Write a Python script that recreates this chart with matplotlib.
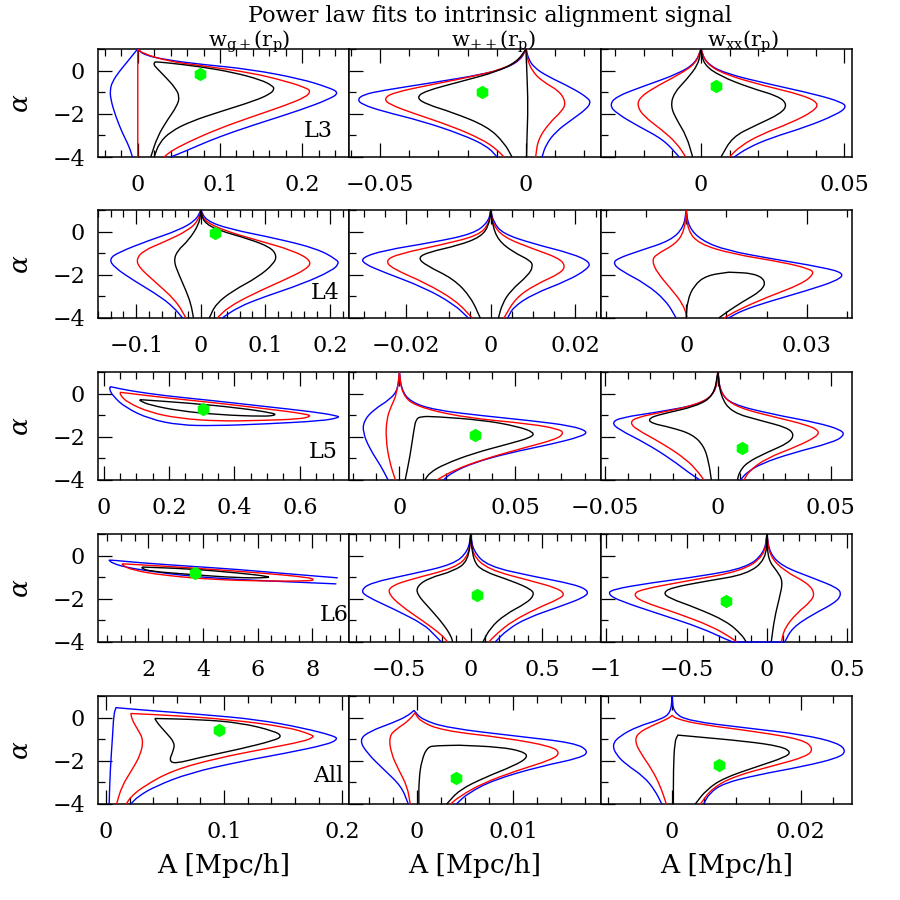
import matplotlib
matplotlib.use('Agg')
from matplotlib import pyplot as plt
from matplotlib.ticker import MultipleLocator, FuncFormatter
from matplotlib.path import Path
from matplotlib.patches import PathPatch

plt.rcParams['font.family'] = 'DejaVu Serif'
plt.rcParams['mathtext.fontset'] = 'dejavuserif'

# contour curves: (A, alpha) pairs
# rows = sample (L3 ... All), columns = statistic (g+, ++, xx)

L3_gp_blue = [(-0.0065, -4.0), (-0.0105, -3.51), (-0.0187, -2.89), (-0.0268, -2.12), (-0.0328, -1.36),
              (-0.0337, -0.89), (-0.0308, -0.51), (-0.0227, -0.05), (-0.0126, 0.41), (-0.0045, 0.80),
              (0.0, 1.0), (0.0077, 0.72), (0.036, 0.49), (0.0766, 0.29), (0.137, 0.06), (0.198, -0.38),
              (0.231, -0.77), (0.245, -1.02), (0.233, -1.32), (0.198, -1.82), (0.158, -2.31),
              (0.117, -2.82), (0.0848, -3.28), (0.0604, -3.69), (0.040, -4.0)]
L3_gp_red = [(0.0, -4.0), (0.0, 1.0), (0.0057, 0.80), (0.0361, 0.44), (0.0766, 0.23), (0.137, -0.09),
             (0.182, -0.51), (0.206, -0.82), (0.210, -0.97), (0.204, -1.23), (0.178, -1.63), (0.137, -2.16),
             (0.0969, -2.71), (0.0604, -3.32), (0.040, -3.74), (0.032, -4.0)]
L3_gp_black = [(0.0158, -4.0), (0.0239, -3.05), (0.0361, -2.28), (0.0474, -1.66), (0.0511, -1.20),
               (0.045, -0.77), (0.034, -0.31), (0.0231, 0.11), (0.0191, 0.29), (0.0211, 0.40), (0.032, 0.38),
               (0.0766, 0.18), (0.117, -0.09), (0.150, -0.43), (0.164, -0.71), (0.166, -0.86), (0.161, -1.08),
               (0.142, -1.40), (0.101, -1.89), (0.0645, -2.35), (0.040, -2.82), (0.026, -3.35), (0.0199, -4.0)]

L3_pp_blue = [(-0.0099, -4.0), (-0.0133, -3.50), (-0.0219, -2.96), (-0.0356, -2.34), (-0.0492, -1.88),
              (-0.0561, -1.57), (-0.0578, -1.34), (-0.0557, -1.11), (-0.0492, -0.92), (-0.0321, -0.56),
              (-0.0150, -0.18), (-0.0065, 0.13), (-0.0017, 0.52), (0.0, 1.0), (0.0009, 0.52), (0.0029, 0.13),
              (0.0072, -0.25), (0.0157, -0.80), (0.0212, -1.26), (0.0222, -1.49), (0.0205, -1.80),
              (0.0157, -2.27), (0.0103, -2.81), (0.0068, -3.43), (0.0055, -4.0)]
L3_pp_red = [(-0.0075, -4.0), (-0.0105, -3.60), (-0.0150, -3.19), (-0.0253, -2.58), (-0.039, -1.96),
             (-0.0467, -1.57), (-0.0487, -1.31), (-0.0458, -1.03), (-0.0321, -0.64), (-0.0185, -0.28),
             (-0.0082, 0.06), (-0.0022, 0.49), (0.0, 1.0), (0.0005, 0.52), (0.0021, -0.02), (0.0055, -0.49),
             (0.0115, -0.95), (0.0137, -1.49), (0.0123, -1.88), (0.008, -2.42), (0.0041, -3.19), (0.0033, -4.0)]
L3_pp_black = [(-0.0048, -4.0), (-0.0074, -3.35), (-0.0133, -2.58), (-0.0253, -1.93), (-0.0339, -1.57),
               (-0.0376, -1.26), (-0.0347, -0.95), (-0.0219, -0.49), (-0.0099, -0.05), (-0.0031, 0.41),
               (0.0, 1.0), (0.0003, -0.10), (0.0007, -1.65), (0.0003, -3.19), (0.0002, -4.0)]

L3_xx_blue = [(-0.0076, -4.0), (-0.0130, -3.20), (-0.0218, -2.58), (-0.0293, -1.99), (-0.0319, -1.62),
              (-0.0298, -1.21), (-0.020, -0.72), (-0.0076, -0.13), (-0.0018, 0.37), (0.0, 1.0),
              (0.0016, 0.37), (0.0083, -0.13), (0.0243, -0.64), (0.0403, -1.11), (0.0491, -1.46),
              (0.0509, -1.69), (0.0474, -2.03), (0.0367, -2.61), (0.0243, -3.12), (0.0163, -3.58), (0.0116, -4.0)]
L3_xx_red = [(-0.0053, -4.0), (-0.0085, -3.35), (-0.0138, -2.73), (-0.020, -2.11), (-0.0222, -1.65),
             (-0.0215, -1.26), (-0.0165, -0.80), (-0.0076, -0.18), (-0.0018, 0.33), (0.0, 1.0), (0.0018, 0.33),
             (0.0083, -0.18), (0.0225, -0.72), (0.0349, -1.11), (0.0412, -1.49), (0.0394, -1.88),
             (0.0314, -2.42), (0.0208, -2.96), (0.0137, -3.50), (0.0099, -4.0)]
L3_xx_black = [(-0.0029, -4.0), (-0.0050, -3.04), (-0.0085, -2.27), (-0.0106, -1.65), (-0.0094, -1.03),
               (-0.005, -0.41), (-0.0009, 0.29), (0.0, 1.0), (0.0009, 0.29), (0.0066, -0.25), (0.0172, -0.80),
               (0.027, -1.18), (0.0302, -1.57), (0.0279, -1.99), (0.019, -2.54), (0.011, -3.07), (0.007, -4.0)]

L4_gp_blue = [(-0.0285, -4.0), (-0.0423, -3.50), (-0.0654, -2.96), (-0.1038, -2.27), (-0.1346, -1.65),
              (-0.1423, -1.26), (-0.1269, -0.95), (-0.0807, -0.41), (-0.0346, 0.06), (-0.0077, 0.52),
              (0.0, 1.0), (0.0077, 0.52), (0.0423, 0.13), (0.119, -0.33), (0.181, -0.80), (0.2115, -1.31),
              (0.2138, -1.49), (0.2038, -1.80), (0.1577, -2.42), (0.0961, -3.04), (0.0577, -3.50), (0.0331, -4.0)]
L4_gp_red = [(-0.0231, -4.0), (-0.0385, -3.20), (-0.0731, -2.27), (-0.0961, -1.65), (-0.100, -1.26),
             (-0.0884, -0.87), (-0.0577, -0.49), (-0.0192, 0.06), (-0.0038, 0.52), (0.0, 1.0), (0.0038, 0.52),
             (0.0346, 0.06), (0.0884, -0.41), (0.1423, -0.87), (0.1715, -1.34), (0.1654, -1.72),
             (0.1269, -2.27), (0.0807, -2.89), (0.0423, -3.50), (0.0254, -4.0)]
L4_gp_black = [(-0.0115, -4.0), (-0.0154, -3.35), (-0.0231, -2.73), (-0.0346, -1.96), (-0.0423, -1.34),
               (-0.0361, -0.87), (-0.0192, -0.41), (-0.0023, 0.37), (0.0, 1.0), (0.0038, 0.44), (0.0269, 0.06),
               (0.0731, -0.33), (0.1077, -0.72), (0.1177, -1.11), (0.113, -1.49), (0.0884, -2.11),
               (0.050, -2.73), (0.0231, -3.35), (0.0131, -4.0)]

L4_pp_blue = [(-0.0053, -4.0), (-0.0088, -3.35), (-0.0159, -2.58), (-0.0253, -1.88), (-0.030, -1.49),
              (-0.0306, -1.21), (-0.0253, -0.87), (-0.0135, -0.49), (-0.0041, -0.10), (-0.0006, 0.44),
              (0.0, 1.0), (0.0006, 0.44), (0.0029, -0.10), (0.010, -0.56), (0.0194, -1.03), (0.0235, -1.41),
              (0.023, -1.72), (0.0182, -2.27), (0.010, -2.89), (0.0053, -3.50), (0.0040, -4.0)]
L4_pp_red = [(-0.0044, -4.0), (-0.0082, -3.20), (-0.0153, -2.39), (-0.0232, -1.72), (-0.025, -1.34),
             (-0.0218, -1.03), (-0.0112, -0.59), (-0.0029, -0.18), (-0.0004, 0.37), (0.0, 1.0), (0.0004, 0.37),
             (0.0029, -0.25), (0.010, -0.80), (0.0159, -1.21), (0.0177, -1.57), (0.0165, -1.93),
             (0.0106, -2.45), (0.0059, -3.07), (0.0031, -4.0)]
L4_pp_black = [(-0.0025, -4.0), (-0.0047, -3.04), (-0.0088, -2.19), (-0.0153, -1.57), (-0.0173, -1.21),
               (-0.0147, -0.95), (-0.0077, -0.64), (-0.0024, -0.25), (-0.0004, 0.29), (0.0, 1.0),
               (0.0004, 0.29), (0.0018, -0.41), (0.0053, -0.95), (0.0094, -1.34), (0.010, -1.62),
               (0.0088, -2.03), (0.0047, -2.73), (0.0027, -3.35), (0.0018, -4.0)]

L4_xx_blue = [(-0.0025, -4.0), (-0.005, -3.20), (-0.010, -2.42), (-0.0163, -1.80), (-0.0181, -1.49),
              (-0.0173, -1.26), (-0.0113, -0.87), (-0.0038, -0.41), (-0.0006, 0.21), (0.0, 1.0),
              (0.0006, 0.21), (0.0038, -0.41), (0.010, -0.87), (0.0213, -1.26), (0.0338, -1.65),
              (0.0394, -1.93), (0.0375, -2.27), (0.030, -2.73), (0.020, -3.27), (0.0138, -3.66), (0.0105, -4.0)]
L4_xx_red = [(0.0003, -4.0), (-0.0008, -3.35), (-0.0038, -2.65), (-0.0073, -1.88), (-0.0085, -1.34),
             (-0.0075, -1.06), (-0.0025, -0.56), (-0.0004, 0.06), (0.0, 1.0), (0.0004, 0.06), (0.0031, -0.56),
             (0.0113, -1.03), (0.0238, -1.41), (0.0306, -1.72), (0.0319, -1.93), (0.0288, -2.42),
             (0.020, -3.04), (0.0125, -3.66), (0.0094, -4.0)]
L4_xx_black = [(0.0, -4.0), (0.0003, -3.20), (0.0019, -2.50), (0.005, -2.03), (0.0106, -1.88), (0.0169, -1.93),
               (0.0198, -2.27), (0.0188, -2.73), (0.0138, -3.27), (0.010, -3.74), (0.0081, -4.0)]

L5_gp_blue = [(0.0206, 0.32), (0.081, 0.13), (0.187, -0.10), (0.338, -0.33), (0.489, -0.59), (0.640, -0.84),
              (0.716, -1.03), (0.720, -1.11), (0.670, -1.26), (0.489, -1.41), (0.338, -1.49), (0.232, -1.46),
              (0.141, -1.18), (0.066, -0.64), (0.028, -0.10), (0.0176, 0.21), (0.0206, 0.32)]
L5_gp_red = [(0.051, 0.06), (0.187, -0.19), (0.338, -0.42), (0.489, -0.69), (0.625, -0.95), (0.633, -1.07),
             (0.595, -1.18), (0.489, -1.24), (0.353, -1.28), (0.232, -1.15), (0.141, -0.87), (0.073, -0.41),
             (0.051, -0.07), (0.051, 0.06)]
L5_gp_black = [(0.111, -0.28), (0.262, -0.44), (0.413, -0.66), (0.519, -0.90), (0.527, -1.0), (0.489, -1.06),
               (0.353, -0.98), (0.232, -0.80), (0.141, -0.53), (0.111, -0.33), (0.111, -0.28)]

L5_pp_blue = [(-0.0049, -4.0), (-0.008, -3.35), (-0.0127, -2.58), (-0.0158, -1.80), (-0.0154, -1.26),
              (-0.0112, -0.75), (-0.0038, -0.25), (-0.0006, 0.21), (0.0, 1.0), (0.0008, 0.21), (0.0046, -0.38),
              (0.0152, -0.76), (0.0363, -1.03), (0.0574, -1.26), (0.0743, -1.49), (0.0817, -1.76),
              (0.0785, -1.99), (0.0658, -2.34), (0.0468, -2.76), (0.0321, -3.20), (0.0226, -3.66), (0.019, -4.0)]
L5_pp_red = [(-0.0017, -4.0), (-0.0042, -3.20), (-0.0059, -2.11), (-0.0055, -1.18), (-0.0038, -0.64),
             (-0.0011, -0.02), (0.0, 1.0), (0.0011, -0.02), (0.0068, -0.59), (0.0279, -1.11), (0.0574, -1.41),
             (0.069, -1.65), (0.0711, -1.83), (0.0679, -2.11), (0.0532, -2.53), (0.0363, -3.04),
             (0.0236, -3.54), (0.0162, -4.0)]
L5_pp_black = [(0.0025, -4.0), (0.0046, -2.89), (0.0063, -1.65), (0.0072, -1.18), (0.0093, -1.06),
               (0.0152, -1.06), (0.0363, -1.23), (0.0511, -1.52), (0.0584, -1.80), (0.057, -2.03),
               (0.0468, -2.34), (0.0321, -2.76), (0.0194, -3.27), (0.0131, -3.66), (0.011, -4.0)]

L5_xx_blue = [(-0.008, -4.0), (-0.0129, -3.66), (-0.0207, -3.04), (-0.0319, -2.30), (-0.0442, -1.65),
              (-0.0471, -1.34), (-0.043, -1.11), (-0.0274, -0.87), (-0.0074, -0.49), (-0.0011, 0.06), (0.0, 1.0),
              (0.0011, 0.06), (0.006, -0.49), (0.0239, -0.95), (0.0439, -1.34), (0.0551, -1.69), (0.056, -1.96),
              (0.0506, -2.27), (0.0328, -2.76), (0.0194, -3.23), (0.0127, -3.66), (0.010, -4.0)]
L5_xx_red = [(-0.0062, -4.0), (-0.0085, -3.66), (-0.014, -3.04), (-0.0252, -2.27), (-0.0363, -1.65),
             (-0.039, -1.34), (-0.0363, -1.11), (-0.0252, -0.87), (-0.0096, -0.53), (-0.0011, -0.02), (0.0, 1.0),
             (0.0011, -0.02), (0.0083, -0.64), (0.0261, -1.11), (0.0395, -1.45), (0.045, -1.72),
             (0.0439, -1.99), (0.035, -2.45), (0.0216, -2.99), (0.0138, -3.58), (0.0116, -4.0)]
L5_xx_black = [(-0.0029, -4.0), (-0.004, -3.20), (-0.0062, -2.42), (-0.0114, -1.88), (-0.0207, -1.57),
               (-0.0297, -1.37), (-0.0308, -1.15), (-0.0252, -0.95), (-0.0096, -0.59), (-0.0018, -0.10),
               (0.0, 1.0), (0.0011, -0.10), (0.006, -0.87), (0.0194, -1.26), (0.0306, -1.57), (0.0339, -1.88),
               (0.0317, -2.27), (0.0216, -2.73), (0.0127, -3.20), (0.0094, -3.66), (0.0087, -4.0)]

L6_gp_blue = [(8.93, -1.03), (7.08, -0.84), (5.28, -0.64), (3.48, -0.49), (1.68, -0.33), (0.78, -0.22),
              (0.56, -0.21), (0.69, -0.35), (1.14, -0.53), (2.04, -0.72), (3.48, -0.95), (5.28, -1.11),
              (7.08, -1.21), (8.88, -1.31)]
L6_gp_red = [(1.05, -0.38), (2.58, -0.49), (4.38, -0.64), (6.18, -0.81), (7.80, -1.0), (8.12, -1.12),
             (7.80, -1.18), (6.18, -1.18), (4.38, -1.11), (2.58, -0.92), (1.41, -0.67), (1.05, -0.44), (1.05, -0.38)]
L6_gp_black = [(1.77, -0.53), (3.48, -0.61), (5.28, -0.80), (6.45, -0.97), (6.36, -1.03), (5.28, -1.03),
               (3.48, -0.87), (2.04, -0.72), (1.77, -0.59), (1.77, -0.53)]

L6_pp_blue = [(-0.204, -4.0), (-0.255, -3.66), (-0.323, -3.20), (-0.527, -2.50), (-0.731, -1.88), (-0.765, -1.60),
              (-0.697, -1.26), (-0.425, -0.87), (-0.119, -0.41), (-0.017, 0.21), (0.0, 1.0), (0.017, 0.21),
              (0.119, -0.49), (0.425, -0.95), (0.731, -1.34), (0.826, -1.65), (0.792, -1.93), (0.629, -2.34),
              (0.391, -2.89), (0.255, -3.43), (0.17, -4.0)]
L6_pp_red = [(-0.16, -4.0), (-0.204, -3.66), (-0.323, -3.07), (-0.493, -2.30), (-0.578, -1.72), (-0.554, -1.41),
             (-0.425, -1.11), (-0.102, -0.56), (-0.010, 0.06), (0.0, 1.0), (0.010, 0.06), (0.119, -0.64),
             (0.425, -1.18), (0.595, -1.49), (0.656, -1.76), (0.622, -1.99), (0.459, -2.45), (0.289, -3.04),
             (0.187, -3.58), (0.126, -4.0)]
L6_pp_black = [(-0.126, -4.0), (-0.136, -3.74), (-0.187, -3.20), (-0.289, -2.42), (-0.374, -1.80),
               (-0.374, -1.41), (-0.289, -1.03), (-0.119, -0.72), (-0.017, -0.25), (0.0, 1.0), (0.017, -0.25),
               (0.085, -0.72), (0.289, -1.18), (0.425, -1.57), (0.442, -1.83), (0.391, -2.19), (0.238, -2.73),
               (0.136, -3.35), (0.085, -4.0)]

L6_xx_blue = [(-0.212, -4.0), (-0.251, -3.89), (-0.408, -3.35), (-0.659, -2.73), (-0.911, -2.11),
              (-0.989, -1.80), (-0.967, -1.57), (-0.722, -1.26), (-0.408, -0.95), (-0.126, -0.56),
              (-0.016, 0.13), (0.0, 1.0), (0.016, 0.13), (0.094, -0.49), (0.283, -1.03), (0.44, -1.49),
              (0.465, -1.80), (0.424, -2.19), (0.283, -2.73), (0.157, -3.35), (0.111, -4.0), (-0.212, -4.0)]
L6_xx_red = [(-0.19, -4.0), (-0.22, -3.81), (-0.345, -3.27), (-0.565, -2.65), (-0.785, -2.11), (-0.832, -1.80),
             (-0.785, -1.57), (-0.502, -1.18), (-0.157, -0.72), (-0.016, -0.02), (0.0, 1.0), (0.016, -0.02),
             (0.11, -0.72), (0.251, -1.26), (0.298, -1.72), (0.276, -2.11), (0.188, -2.65), (0.11, -3.35),
             (0.09, -4.0)]
L6_xx_black = [(-0.129, -4.0), (-0.157, -3.66), (-0.251, -3.04), (-0.44, -2.42), (-0.612, -1.96),
               (-0.644, -1.72), (-0.597, -1.49), (-0.377, -1.18), (-0.126, -0.87), (-0.006, -0.18), (0.0, 1.0),
               (0.006, -0.18), (0.063, -0.72), (0.10, -1.18), (0.078, -1.96), (0.047, -2.89), (0.027, -4.0)]

All_gp_blue = [(0.0027, -4.0), (0.0036, -2.42), (0.0056, -0.86), (0.0066, 0.15), (0.0085, 0.46), (0.0317, 0.35),
               (0.080, 0.15), (0.1285, -0.09), (0.167, -0.48), (0.194, -0.86), (0.196, -1.02), (0.187, -1.25),
               (0.153, -1.64), (0.114, -2.03), (0.0704, -2.57), (0.0414, -3.19), (0.0269, -3.66), (0.0211, -4.0)]
All_gp_red = [(0.009, -4.0), (0.0133, -3.19), (0.022, -2.42), (0.0293, -1.72), (0.0317, -1.02), (0.0269, -0.55),
              (0.022, -0.09), (0.0211, 0.19), (0.056, 0.10), (0.1043, -0.09), (0.153, -0.43), (0.1745, -0.79),
              (0.176, -0.91), (0.1672, -1.10), (0.1382, -1.41), (0.0946, -1.87), (0.0559, -2.45),
              (0.0317, -3.19), (0.0211, -3.66), (0.0172, -4.0)]
All_gp_black = [(0.0414, -0.04), (0.080, -0.09), (0.114, -0.24), (0.143, -0.63), (0.149, -0.86), (0.143, -1.05),
                (0.114, -1.45), (0.080, -1.84), (0.0583, -2.14), (0.0535, -1.98), (0.0569, -1.56),
                (0.0583, -1.17), (0.0511, -0.71), (0.0438, -0.27), (0.0414, -0.04)]

All_pp_blue = [(-0.0009, -4.0), (-0.0016, -3.19), (-0.0034, -2.42), (-0.0052, -1.64), (-0.006, -1.02),
               (-0.0049, -0.63), (-0.0025, -0.24), (-0.001, 0.07), (-0.0003, 0.33), (0.0005, -0.09),
               (0.0032, -0.48), (0.0104, -0.86), (0.0164, -1.17), (0.0179, -1.56), (0.017, -1.87),
               (0.0128, -2.26), (0.008, -2.88), (0.0053, -3.50), (0.0041, -4.0)]
All_pp_red = [(-0.0007, -4.0), (-0.001, -3.19), (-0.0019, -2.42), (-0.0027, -1.64), (-0.0029, -0.86),
              (-0.0021, -0.52), (-0.0009, -0.16), (-0.0002, 0.22), (0.0003, -0.16), (0.0026, -0.60),
              (0.0092, -0.94), (0.014, -1.33), (0.0149, -1.64), (0.014, -1.95), (0.0104, -2.45),
              (0.0068, -3.04), (0.0044, -3.66), (0.0035, -4.0)]
All_pp_black = [(0.0002, -4.0), (0.0002, -2.88), (0.0005, -1.95), (0.0011, -1.36), (0.002, -1.30),
                (0.0044, -1.28), (0.0086, -1.36), (0.011, -1.56), (0.0116, -1.83), (0.0101, -2.23),
                (0.0071, -2.76), (0.0044, -3.35), (0.0031, -4.0)]

All_xx_blue = [(-0.0016, -4.0), (-0.0027, -3.35), (-0.0044, -2.73), (-0.0071, -2.18), (-0.0087, -1.72),
               (-0.0093, -1.25), (-0.0082, -0.86), (-0.0053, -0.40), (-0.0018, -0.09), (-0.0002, 0.22),
               (0.0, 1.0), (0.0002, 0.22), (0.0027, -0.16), (0.0116, -0.48), (0.0204, -0.79), (0.0258, -1.17),
               (0.0271, -1.56), (0.0258, -1.87), (0.0204, -2.26), (0.0133, -2.65), (0.008, -3.04),
               (0.0058, -3.50), (0.0049, -4.0)]
All_xx_red = [(-0.0009, -4.0), (-0.0018, -3.19), (-0.0031, -2.42), (-0.0049, -1.64), (-0.0058, -1.10),
              (-0.0053, -0.71), (-0.0031, -0.37), (-0.0007, -0.06), (0.0, 0.10), (0.0007, -0.06),
              (0.0044, -0.32), (0.0133, -0.66), (0.0204, -1.02), (0.022, -1.45), (0.0209, -1.80),
              (0.016, -2.21), (0.0098, -2.70), (0.0062, -3.27), (0.0044, -4.0)]
All_xx_black = [(0.0002, -4.0), (0.0002, -2.42), (0.0004, -1.10), (0.0009, -0.81), (0.0027, -0.86),
                (0.0116, -1.10), (0.0169, -1.33), (0.0185, -1.59), (0.0176, -1.83), (0.0133, -2.26),
                (0.008, -2.80), (0.0053, -3.35), (0.0036, -4.0)]

# best fit points (green)
best_fit = {
    ('L3', 'gp'): (0.0754, -0.17), ('L3', 'pp'): (-0.0150, -0.98), ('L3', 'xx'): (0.0051, -0.69),
    ('L4', 'gp'): (0.0215, -0.05),
    ('L5', 'gp'): (0.305, -0.69), ('L5', 'pp'): (0.0327, -1.93), ('L5', 'xx'): (0.0105, -2.50),
    ('L6', 'gp'): (3.70, -0.80), ('L6', 'pp'): (0.044, -1.83), ('L6', 'xx'): (-0.257, -2.08),
    ('All', 'gp'): (0.096, -0.57), ('All', 'pp'): (0.0041, -2.80), ('All', 'xx'): (0.0073, -2.18),
}

rows = ['L3', 'L4', 'L5', 'L6', 'All']
cols = ['gp', 'pp', 'xx']
col_titles = [r'w$_{\mathregular{g+}}$(r$_{\mathregular{p}}$)',
              r'w$_{\mathregular{++}}$(r$_{\mathregular{p}}$)',
              r'w$_{\mathregular{xx}}$(r$_{\mathregular{p}}$)']

xlims = {
    'L3': [(-0.0487, 0.257), (-0.0606, 0.0256), (-0.035, 0.0528)],
    'L4': [(-0.16, 0.23), (-0.0335, 0.026), (-0.02125, 0.04125)],
    'L5': [(-0.018, 0.751), (-0.0217, 0.087), (-0.052, 0.0596)],
    'L6': [(0.15, 9.35), (-0.847, 0.906), (-1.035, 0.531)],
    'All': [(-0.007, 0.206), (-0.00704, 0.0191), (-0.0111, 0.028)],
}
xticks = {
    'L3': [(0.1, 0.02), (0.05, 0.01), (0.05, 0.01)],
    'L4': [(0.1, 0.02), (0.02, 0.005), (0.03, 0.01)],
    'L5': [(0.2, 0.05), (0.05, 0.01), (0.05, 0.01)],
    'L6': [(2, 0.5), (0.5, 0.1), (0.5, 0.1)],
    'All': [(0.1, 0.02), (0.01, 0.0025), (0.02, 0.005)],
}
label_pos = {'L3': (0.935, 0.243), 'L4': (0.962, 0.23), 'L5': (0.953, 0.256),
             'L6': (0.997, 0.254), 'All': (0.975, 0.26)}
title_x = [0.604, 0.573, 0.567]


def fmt(v, pos):
    s = '%g' % round(v, 8)
    if s == '-0':
        s = '0'
    return s.replace('-', '\u2212')


def smooth_path(pts):
    # quadratic curve through the midpoints, sharp at cusps / local tops
    n = len(pts)
    mid = lambda a, b: ((a[0] + b[0]) / 2.0, (a[1] + b[1]) / 2.0)
    verts = [pts[0], mid(pts[0], pts[1])]
    codes = [Path.MOVETO, Path.LINETO]
    for k in range(1, n - 1):
        a0, a1, a2 = pts[k - 1][1], pts[k][1], pts[k + 1][1]
        corner = (a1 > a0 and a1 > a2) or a1 <= -3.999
        if corner:
            codes += [Path.LINETO, Path.LINETO]
        else:
            codes += [Path.CURVE3, Path.CURVE3]
        verts += [pts[k], mid(pts[k], pts[k + 1])]
    verts.append(pts[-1])
    codes.append(Path.LINETO)
    return Path(verts, codes)


fig = plt.figure(figsize=(9, 9), dpi=100)
W, H = 900.0, 900.0
col_left = [97.7, 349.2, 600.7]
row_top = [49, 210, 372, 534, 696]
ax_w, ax_h = 251.5, 108.0

for i, r in enumerate(rows):
    for j, c in enumerate(cols):
        ax = fig.add_axes([col_left[j] / W, 1 - (row_top[i] + ax_h) / H, ax_w / W, ax_h / H])
        for colour in ['blue', 'red', 'black']:
            pts = globals()['%s_%s_%s' % (r, c, colour)]
            patch = PathPatch(smooth_path(pts), fill=False, edgecolor=colour, lw=1.0,
                              zorder=3, clip_on=False)
            ax.add_patch(patch)
        if (r, c) in best_fit:
            bx, by = best_fit[(r, c)]
            ax.plot([bx], [by], 'h', color='#00ff00', ms=8.5, mec='#00ff00', zorder=4)

        ax.set_xlim(*xlims[r][j])
        ax.set_ylim(-4, 1)
        major, minor = xticks[r][j]
        ax.xaxis.set_major_locator(MultipleLocator(major))
        ax.xaxis.set_minor_locator(MultipleLocator(minor))
        ax.xaxis.set_major_formatter(FuncFormatter(fmt))
        ax.yaxis.set_major_locator(MultipleLocator(2))
        ax.yaxis.set_minor_locator(MultipleLocator(1))
        ax.yaxis.set_major_formatter(FuncFormatter(fmt))
        ax.tick_params(which='both', direction='in', top=True, bottom=True, left=True, right=False,
                       width=0.9, labelsize=16)
        ax.tick_params(which='major', length=10)
        ax.tick_params(which='minor', length=5)
        ax.tick_params(axis='x', pad=12)
        ax.tick_params(axis='y', pad=9)
        for sp in ax.spines.values():
            sp.set_linewidth(1.1)
        if j > 0:
            ax.set_yticklabels([])
        else:
            ax.text(-0.305, 0.5, r'$\alpha$', rotation=90, fontsize=19, ha='center', va='center',
                    transform=ax.transAxes)
        if j == 0:
            lx, ly = label_pos[r]
            ax.text(lx, ly, r, fontsize=16, ha='right', va='center', transform=ax.transAxes, zorder=5)
        if i == 0:
            ax.text(title_x[j], 1.0185, col_titles[j], fontsize=15, ha='center', va='baseline',
                    transform=ax.transAxes)
        if i == len(rows) - 1:
            ax.text(0.5, -0.64, 'A [Mpc/h]', fontsize=19, ha='center', va='baseline',
                    transform=ax.transAxes)

fig.text(0.544, 1 - 22 / H, 'Power law fits to intrinsic alignment signal', fontsize=16,
         ha='center', va='baseline')

fig.savefig('out.png', dpi=100)
